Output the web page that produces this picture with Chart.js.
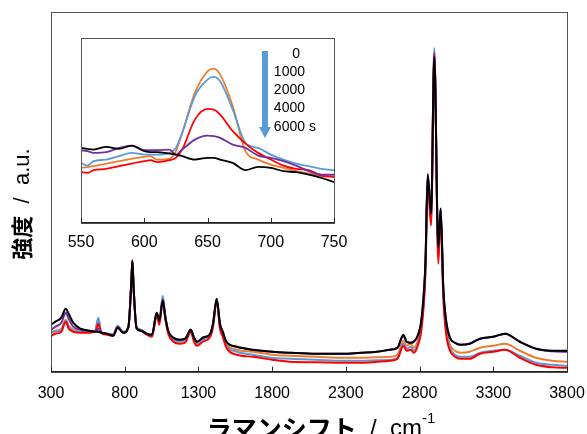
<!DOCTYPE html>
<html>
<head>
<meta charset="utf-8">
<script src="https://cdn.jsdelivr.net/npm/chart.js@4.4.1/dist/chart.umd.min.js"></script>
<style>
  html, body { margin: 0; padding: 0; background: #fff; }
  #wrap { position: relative; width: 587px; height: 434px; overflow: hidden; }
  #wrap canvas { position: absolute; left: 0; top: 0; }
</style>
</head>
<body>
<div id="wrap">
  <canvas id="main" width="587" height="434"></canvas>
  <canvas id="inset" width="587" height="434"></canvas>
</div>
<script>
// Series names (reaction time) and colours
const times = ['0', '1000', '2000', '4000', '6000'];
const colors = ['#ED7D31', '#5B9BD5', '#FF0000', '#7030A0', '#000000'];

// Main spectrum, Raman shift in cm-1
const shift = [300, 330, 370, 400, 420, 450, 500, 560, 600, 621, 640, 680, 722, 752, 790, 825, 845, 852, 860, 880,
  910, 950, 985, 1017, 1035, 1058, 1075, 1095, 1130, 1175, 1210, 1248, 1270, 1290, 1330, 1380, 1400, 1424, 1446, 1465,
  1490, 1560, 1670, 1800, 1920, 2100, 2280, 2400, 2510, 2600, 2650, 2690, 2712, 2740, 2760, 2790, 2815, 2840, 2855, 2878,
  2900, 2927, 2943, 2961, 2980, 3006, 3040, 3075, 3140, 3210, 3300, 3380, 3480, 3590, 3700, 3800];

const int0 = [40, 41, 43, 52, 46, 42, 40, 40, 41, 53, 40, 38, 36, 45, 39, 45, 90, 111, 85, 44,
  42, 38, 36, 58, 49, 74, 55, 40, 33, 31, 32, 42, 33, 29, 33, 37, 48, 72, 46, 38,
  28, 22, 20, 17, 16, 15, 14, 14, 14.5, 15, 17, 31, 26, 28, 24, 32, 50, 105, 195, 155,
  321, 118, 162, 80, 45, 27, 21, 19, 20, 24, 26, 28, 21, 14, 11, 10];
const int1000 = [39, 40, 42, 51, 45, 41, 40, 40, 41, 54, 40, 38, 37, 46, 40, 45, 90, 111, 85, 45,
  42, 38, 36, 58, 50, 76, 56, 40, 32, 30, 31, 42, 32, 28, 32, 36, 47, 72, 45, 37,
  26, 20, 17, 14, 13, 12, 11, 11, 11.5, 12, 14, 28, 23, 25, 21, 29, 48, 103, 194, 152,
  323, 115, 161, 78, 42, 24, 17, 15, 15, 19, 21, 22, 16, 9, 7, 6];
const int2000 = [36, 38, 40, 50, 43, 40, 39, 39, 40, 48, 39, 37, 36, 44, 39, 44, 89, 110, 84, 43,
  41, 37, 35, 56, 47, 72, 53, 38, 30, 28, 29, 40, 30, 26, 30, 35, 46, 71, 43, 35,
  24, 17, 15, 12, 10, 9.5, 9, 9, 10, 11, 13, 26, 21, 22, 19, 27, 45, 100, 190, 146,
  318, 108, 158, 74, 38, 21, 15, 13, 13, 18, 20, 22, 14, 7, 4.5, 4];
const int4000 = [42, 45, 49, 59, 53, 45, 42, 41, 40, 43, 39, 38, 37, 45, 39, 45, 90, 111, 85, 44,
  41, 38, 37, 59, 51, 72, 55, 41, 34, 32, 33, 42, 34, 30, 34, 38, 49, 73, 48, 40,
  30, 25, 22, 20, 19, 18, 18, 19, 20, 22, 24, 36, 30, 29, 30, 37, 55, 110, 197, 158,
  316, 124, 163, 84, 51, 34, 29, 27, 28, 33, 35, 38, 30, 23, 20.5, 20];
const int6000 = [47, 50, 54, 63, 58, 49, 43, 41, 40, 40, 39, 38, 36, 44, 39, 45, 90, 111, 85, 44,
  41, 38, 37, 59, 51, 71, 55, 41, 34, 32, 33, 42, 34, 30, 34, 38, 49, 73, 48, 40,
  30, 25, 22, 20, 19, 18, 18, 19, 20, 22, 24, 37, 30, 29, 30, 37, 55, 110, 197, 158,
  314, 124, 163, 84, 51, 34, 29, 27, 28, 33, 35, 38, 30, 23, 21, 21];

const mainTicks = [300, 800, 1300, 1800, 2300, 2800, 3300, 3800];

// Inset: zoom on the 550-750 cm-1 band
const shiftIn = [550, 555, 560, 570, 580, 590, 600, 605, 610, 620, 625, 630, 640, 650, 655, 660, 670, 680, 690, 700,
  710, 720, 730, 740, 750];
const in0 = [55, 55.7, 56.7, 59.3, 61.7, 64, 66, 66.7, 63.3, 64, 71.7, 90, 130, 151.7, 154.3, 148.3, 116.7, 71.7, 63.3, 58.3,
  55, 51.7, 49.3, 47.3, 46.7];
const in1000 = [60, 57.3, 61.7, 63.3, 66.7, 70, 68.3, 68.3, 68.3, 70, 75, 90, 126.7, 143.3, 146, 141.7, 113.3, 80, 75, 68.3,
  63.3, 59.3, 56.7, 54, 52.7];
const in2000 = [50.7, 50, 52.7, 54, 56.7, 59.3, 61.7, 62.7, 60.7, 62.7, 65, 73.3, 103.3, 114, 113.3, 108.3, 91.7, 79.3, 70, 63.3,
  57.3, 54, 52.7, 47.3, 46];
const in4000 = [72.7, 71.7, 70, 70.7, 75, 77.3, 72.7, 72.7, 72.7, 73.3, 68.3, 73.3, 83.3, 87.3, 86.7, 85, 78.3, 75, 67.3, 65,
  61.7, 57.3, 51.7, 48.3, 48.3];
const in6000 = [75, 74, 73.3, 76, 74, 77.3, 71.7, 70.7, 70.7, 69.3, 68.3, 66.7, 63.3, 65, 65, 63.3, 60, 52.7, 56, 55,
  51.7, 50.7, 48.3, 45, 40.7];

const insetTicks = [550, 600, 650, 700, 750];

const latin = '"Liberation Sans", Arial, sans-serif';
const cjk = '"Noto Sans CJK JP", sans-serif';

function makeSets(xs, rows, width) {
    return rows.map((ys, i) => ({
        label: times[i],
        data: xs.map((x, k) => ({ x: x, y: ys[k] })),
        borderColor: colors[i],
        borderWidth: width,
        pointRadius: 0,
        cubicInterpolationMode: 'monotone',
        fill: false,
        order: rows.length - i
    }));
}

// box + ticks pointing into the plot
function drawFrame(chart, tickLen) {
    const { ctx, chartArea: a } = chart;
    const sx = chart.scales.x;
    ctx.save();
    ctx.strokeStyle = '#555';
    ctx.lineWidth = 1;
    ctx.strokeRect(a.left + 0.5, a.top + 0.5, a.right - a.left, a.bottom - a.top);
    ctx.strokeStyle = '#222';
    ctx.lineWidth = 1.5;
    ctx.beginPath();
    ctx.moveTo(a.left, a.bottom);
    ctx.lineTo(a.right + 1, a.bottom);
    ctx.stroke();
    ctx.lineWidth = 1;
    sx.ticks.forEach(t => {
        const px = Math.round(sx.getPixelForValue(t.value)) + 0.5;
        ctx.beginPath();
        ctx.moveTo(px, a.bottom);
        ctx.lineTo(px, a.bottom - tickLen);
        ctx.stroke();
    });
    ctx.restore();
}

// draws pieces of text one after another, centred on 0
function drawRun(ctx, parts) {
    const widths = parts.map(p => { ctx.font = p.font; return ctx.measureText(p.text).width; });
    let x = -widths.reduce((s, w) => s + w, 0) / 2;
    parts.forEach((p, i) => {
        ctx.font = p.font;
        ctx.fillText(p.text, x, p.dy || 0);
        x += widths[i];
    });
}

const mainDeco = {
    id: 'mainDeco',
    afterDraw(chart) {
        drawFrame(chart, 5);
        const ctx = chart.ctx;
        ctx.save();
        ctx.fillStyle = '#000';
        ctx.textBaseline = 'middle';
        // x title
        ctx.save();
        ctx.translate(321, 428);
        drawRun(ctx, [
            { text: 'ラマンシフト', font: 'bold 25px ' + cjk },
            { text: '  /  cm', font: '24px ' + latin, dy: 1 },
            { text: '-1', font: '15px ' + latin, dy: -9 }
        ]);
        ctx.restore();
        // y title
        ctx.translate(22, 204);
        ctx.rotate(-Math.PI / 2);
        drawRun(ctx, [
            { text: '強度', font: 'bold 22px ' + cjk },
            { text: '  /  a.u.', font: '22px ' + latin, dy: 1 }
        ]);
        ctx.restore();
    }
};

const insetDeco = {
    id: 'insetDeco',
    beforeDraw(chart) {
        const { ctx, chartArea: a } = chart;
        ctx.save();
        ctx.fillStyle = '#fff';
        ctx.fillRect(a.left, a.top, a.right - a.left, a.bottom - a.top);
        ctx.restore();
    },
    afterDraw(chart) {
        drawFrame(chart, 5);
        const ctx = chart.ctx;
        ctx.save();
        // arrow showing time order
        ctx.fillStyle = '#5B9BD5';
        ctx.beginPath();
        ctx.moveTo(262, 51);
        ctx.lineTo(268, 51);
        ctx.lineTo(268, 127);
        ctx.lineTo(271, 127);
        ctx.lineTo(265, 138);
        ctx.lineTo(259, 127);
        ctx.lineTo(262, 127);
        ctx.closePath();
        ctx.fill();
        ctx.fillStyle = '#000';
        ctx.font = '14px ' + latin;
        ctx.textBaseline = 'middle';
        ctx.textAlign = 'right';
        const ys = [54, 72, 90, 108, 127];
        times.forEach((t, i) => {
            ctx.fillText(t, i === 0 ? 300 : 305, ys[i]);
        });
        ctx.textAlign = 'left';
        ctx.fillText(' s', 305, ys[4]);
        ctx.restore();
    }
};

const noPad = s => { s.paddingLeft = 0; s.paddingRight = 0; };

new Chart(document.getElementById('main'), {
    type: 'line',
    data: { datasets: makeSets(shift, [int0, int1000, int2000, int4000, int6000], 2) },
    options: {
        responsive: false,
        animation: false,
        devicePixelRatio: 1,
        layout: { padding: { left: 51, right: 20, top: 12, bottom: 19 } },
        plugins: { legend: { display: false }, tooltip: { enabled: false } },
        scales: {
            x: {
                type: 'linear',
                min: 300,
                max: 3800,
                afterBuildTicks: s => { s.ticks = mainTicks.map(v => ({ value: v })); },
                afterFit: noPad,
                grid: { display: false, drawTicks: false },
                border: { display: false },
                ticks: {
                    color: '#000', padding: 12, maxRotation: 0,
                    font: { family: latin, size: 16 },
                    callback: v => String(v)
                }
            },
            y: { display: false, min: 0, max: 359 }
        }
    },
    plugins: [mainDeco]
});

new Chart(document.getElementById('inset'), {
    type: 'line',
    data: { datasets: makeSets(shiftIn, [in0, in1000, in2000, in4000, in6000], 1.8) },
    options: {
        responsive: false,
        animation: false,
        devicePixelRatio: 1,
        layout: { padding: { left: 81, right: 253, top: 38, bottom: 172 } },
        plugins: { legend: { display: false }, tooltip: { enabled: false } },
        scales: {
            x: {
                type: 'linear',
                min: 550,
                max: 750,
                afterBuildTicks: s => { s.ticks = insetTicks.map(v => ({ value: v })); },
                afterFit: noPad,
                grid: { display: false, drawTicks: false },
                border: { display: false },
                ticks: {
                    color: '#000', padding: 10, maxRotation: 0,
                    font: { family: latin, size: 16 },
                    callback: v => String(v)
                }
            },
            y: { display: false, min: 0, max: 185 }
        }
    },
    plugins: [insetDeco]
});
</script>
</body>
</html>
